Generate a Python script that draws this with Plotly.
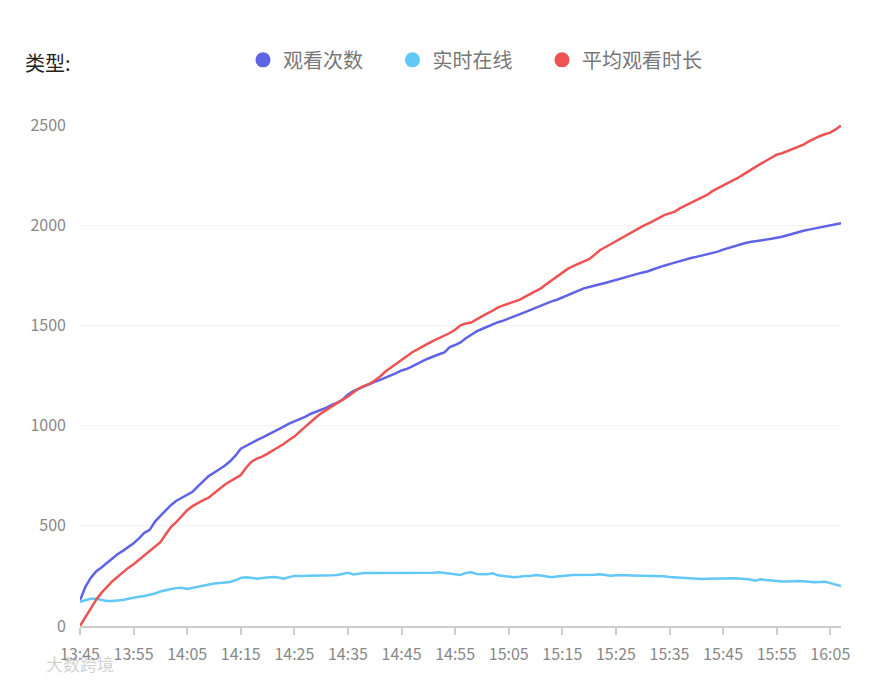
import pandas as pd
import plotly.graph_objects as go

times = pd.date_range("2024-01-01 13:45", periods=143, freq="min")

views = [128,195,240,272,292,315,338,358,375,392,413,437,465,480,521,550,578,604,625,640,
         656,670,697,725,748,765,782,800,822,850,885,900,915,927,940,953,967,980,995,1010,
         1020,1033,1044,1058,1068,1078,1090,1103,1114,1130,1155,1172,1184,1197,1210,1218,1228,1238,1250,1262,
         1275,1283,1295,1310,1323,1335,1347,1356,1365,1392,1402,1415,1436,1454,1470,1482,1494,1506,1516,1524,
         1533,1545,1555,1566,1577,1590,1602,1610,1620,1628,1640,1648,1660,1672,1685,1692,1697,1705,1712,1720,
         1727,1735,1744,1752,1757,1764,1770,1780,1790,1798,1806,1814,1822,1830,1836,1842,1848,1855,1860,1868,
         1878,1886,1895,1904,1910,1916,1921,1925,1928,1932,1936,1942,1950,1958,1966,1972,1978,1983,1988,1993,
         2000,2006,2010]

online = [121,130,136,136,130,125,125,126,130,136,142,146,150,155,162,172,180,185,189,191,
          185,190,197,203,208,212,214,216,220,228,240,243,240,236,240,243,244,242,236,244,
          250,250,250,251,251,251,252,253,255,262,266,257,261,264,264,264,263,263,263,263,
          263,263,263,263,264,265,266,268,264,262,258,255,265,268,260,258,258,263,253,250,
          246,243,246,250,250,254,252,248,243,247,251,252,254,254,254,255,256,258,255,251,
          253,254,253,252,251,251,251,251,250,248,244,242,240,238,237,236,235,236,237,238,
          238,238,238,237,235,232,226,233,230,227,224,222,222,224,225,223,220,218,219,221,
          214,207,200]

avg_duration = [0,42,88,130,165,196,222,245,268,290,308,330,352,372,395,418,458,495,520,548,
                578,598,615,628,640,662,683,705,722,737,753,790,820,835,845,860,875,893,908,928,
                945,970,995,1018,1040,1061,1080,1096,1112,1128,1145,1165,1185,1198,1208,1225,1245,1270,1290,1310,
                1330,1348,1366,1380,1393,1410,1424,1437,1447,1462,1478,1500,1510,1514,1530,1547,1560,1573,1590,1600,
                1608,1618,1627,1642,1655,1670,1685,1705,1725,1745,1765,1782,1796,1808,1818,1830,1852,1875,1890,1905,
                1920,1936,1952,1968,1984,1995,2008,2020,2035,2050,2060,2068,2085,2098,2112,2124,2138,2151,2170,2185,
                2200,2214,2226,2240,2258,2273,2290,2306,2322,2340,2352,2359,2370,2380,2392,2402,2418,2432,2444,2454,
                2462,2478,2498]

series_names = ["观看次数", "实时在线", "平均观看时长"]
series_values = [views, online, avg_duration]
colors = ["#5F63E6", "#62C8F8", "#EE5354"]

FONT = "Noto Sans CJK SC, Noto Sans, sans-serif"
PAD = "\u2003\u00a0"

fig = go.Figure()
for name, vals, col in zip(series_names, series_values, colors):
    fig.add_trace(go.Scatter(x=times, y=vals, mode="lines", name=name,
                             line=dict(color=col, width=2.5), showlegend=False,
                             legendgroup=name))
for i, (name, col) in enumerate(zip(series_names, colors)):
    label = name + (PAD if i < len(series_names) - 1 else "")
    fig.add_trace(go.Scatter(x=[None], y=[None], mode="markers", name=label,
                             marker=dict(color=col, size=15, symbol="circle"),
                             legendgroup=name, showlegend=True))

fig.update_layout(
    width=877, height=681,
    margin=dict(l=80, r=36, t=125, b=55),
    paper_bgcolor="white", plot_bgcolor="white",
    font=dict(family=FONT, color="#888888", size=16),
    legend=dict(orientation="h", x=(243 - 80) / 761, xanchor="left",
                y=1.13, yanchor="middle", font=dict(size=20, color="#777777"),
                itemclick=False),
    xaxis=dict(type="date", range=[times[0], times[-1]],
               tick0=times[0], dtick=600000, tickformat="%H:%M",
               showgrid=False, showline=True, linecolor="#cccccc", linewidth=2,
               ticks="outside", ticklen=7, tickcolor="#cccccc", tickwidth=1.5,
               ticklabelstandoff=6,
               tickfont=dict(size=16, color="#888888"), zeroline=False),
    yaxis=dict(range=[0, 2500], dtick=500, showgrid=True, gridcolor="#f2f2f2",
               gridwidth=1, zeroline=False, showline=False, ticks="",
               ticklabelstandoff=13, tickfont=dict(size=16, color="#888888")),
    annotations=[
        dict(text="类型:", x=(23 - 80) / 761, xref="paper", y=1.124, yref="paper",
             xanchor="left", yanchor="middle", showarrow=False,
             font=dict(size=20, color="#222222")),
        dict(text="大数跨境", x=(44 - 80) / 761, xref="paper", y=-0.074, yref="paper",
             xanchor="left", yanchor="middle", showarrow=False,
             font=dict(size=17, color="rgba(170,170,170,0.55)")),
    ],
)

fig.write_html("out.html", config={"displayModeBar": False},
               post_script="document.body.style.margin='0';")
